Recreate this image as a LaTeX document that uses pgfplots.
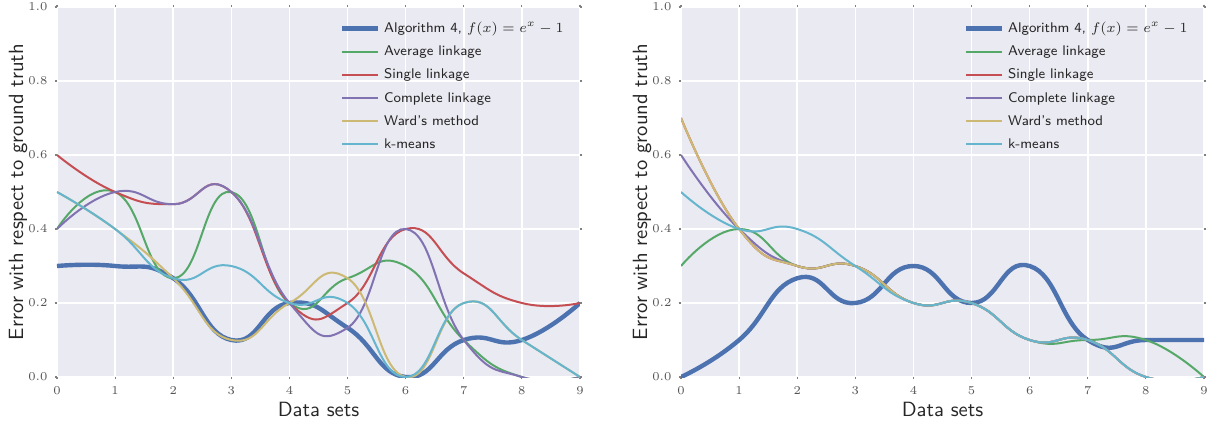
\documentclass[border=0pt]{standalone}
\usepackage{pgfplots}
\pgfplotsset{compat=1.18}

\definecolor{bgc}{HTML}{EAEAF2}
\definecolor{sblue}{HTML}{4C72B0}
\definecolor{sgreen}{HTML}{55A868}
\definecolor{sred}{HTML}{C44E52}
\definecolor{spurple}{HTML}{8172B2}
\definecolor{syellow}{HTML}{CCB974}
\definecolor{scyan}{HTML}{64B5CD}
\definecolor{txt}{HTML}{262626}
\definecolor{tick}{HTML}{555555}

\pgfplotsset{
  panel/.style={
    scale only axis, width=261.5pt, height=185pt,
    xmin=0, xmax=9, ymin=0, ymax=1,
    xtick={0,...,9}, ytick={0,0.2,...,1.0},
    yticklabel style={/pgf/number format/.cd, fixed, fixed zerofill, precision=1},
    ticklabel style={font=\fontsize{6.5}{7}\selectfont, text=tick},
    tick align=outside, major tick length=1.2pt,
    tick style={tick, line width=0.6pt},
    axis line style={draw=none},
    axis background/.style={fill=bgc},
    grid=major, major grid style={white, line width=0.8pt},
    xlabel={Data sets}, ylabel={Error with respect to ground truth},
    every axis x label/.style={at={(rel axis cs:0.5,-0.087)}, anchor=center,
      font=\sffamily\fontsize{10.3}{12}\selectfont, text=txt},
    every axis y label/.style={at={(rel axis cs:-0.0746,0.5)}, anchor=center, rotate=90,
      font=\sffamily\fontsize{10.3}{12}\selectfont, text=txt},
    legend cell align=left,
    legend style={draw=none, fill=none, inner sep=0pt, outer sep=0pt,
      at={(rel axis cs:1,1)}, anchor=north east, xshift=-6.2pt, yshift=-5.2pt,
      font=\sffamily\fontsize{7}{8}\selectfont, text=txt, row sep=0.6pt,
      nodes={text height=5.5pt, text depth=1.5pt}},
    legend image code/.code={\draw[#1] (0pt,0pt) -- (18pt,0pt);},
    every axis plot/.append style={smooth, tension=0.85, line width=1pt},
  },
  alg/.style={sblue, line width=2.2pt},
}

\begin{document}
\begin{tikzpicture}
\begin{axis}[panel, at={(0,0)}]
\addplot[alg] coordinates {(0,0.3) (1,0.3) (2,0.267) (3,0.1) (4,0.2) (5,0.133) (6,0.0) (7,0.1) (8,0.1) (9,0.2)};
\addplot[sgreen] coordinates {(0,0.4) (1,0.5) (2,0.267) (3,0.5) (4,0.2) (5,0.267) (6,0.3) (7,0.1) (8,0.0) (9,0.0)};
\addplot[sred] coordinates {(0,0.6) (1,0.5) (2,0.467) (3,0.5) (4,0.2) (5,0.2) (6,0.4) (7,0.28) (8,0.2) (9,0.2)};
\addplot[spurple] coordinates {(0,0.4) (1,0.5) (2,0.467) (3,0.5) (4,0.2) (5,0.133) (6,0.4) (7,0.1) (8,0.0) (9,0.0)};
\addplot[syellow] coordinates {(0,0.5) (1,0.4) (2,0.267) (3,0.1) (4,0.2) (5,0.267) (6,0.0) (7,0.2) (8,0.1) (9,0.0)};
\addplot[scyan] coordinates {(0,0.5) (1,0.4) (2,0.267) (3,0.3) (4,0.2) (5,0.2) (6,0.0) (7,0.2) (8,0.1) (9,0.0)};
\legend{{Algorithm 4, $f(x)=e^x-1$}, Average linkage, Single linkage, Complete linkage, Ward's method, k-means}
\end{axis}

\begin{axis}[panel, at={(312pt,0)}]
\addplot[alg] coordinates {(0,0.0) (1,0.1) (2,0.267) (3,0.2) (4,0.3) (5,0.2) (6,0.3) (7,0.1) (8,0.1) (9,0.1)};
\addplot[sgreen] coordinates {(0,0.3) (1,0.4) (2,0.3) (3,0.3) (4,0.2) (5,0.2) (6,0.1) (7,0.1) (8,0.1) (9,0.0)};
\addplot[sred] coordinates {(0,0.7) (1,0.4) (2,0.3) (3,0.3) (4,0.2) (5,0.2) (6,0.1) (7,0.1) (8,0.0) (9,0.0)};
\addplot[spurple] coordinates {(0,0.6) (1,0.4) (2,0.3) (3,0.3) (4,0.2) (5,0.2) (6,0.1) (7,0.1) (8,0.0) (9,0.0)};
\addplot[syellow] coordinates {(0,0.7) (1,0.4) (2,0.3) (3,0.3) (4,0.2) (5,0.2) (6,0.1) (7,0.1) (8,0.0) (9,0.0)};
\addplot[scyan] coordinates {(0,0.5) (1,0.4) (2,0.4) (3,0.3) (4,0.2) (5,0.2) (6,0.1) (7,0.1) (8,0.0) (9,0.0)};
\legend{{Algorithm 4, $f(x)=e^x-1$}, Average linkage, Single linkage, Complete linkage, Ward's method, k-means}
\end{axis}

\pgfresetboundingbox
\path (-28.5pt,-24pt) rectangle (580.5pt,188.5pt);
\end{tikzpicture}
\end{document}
